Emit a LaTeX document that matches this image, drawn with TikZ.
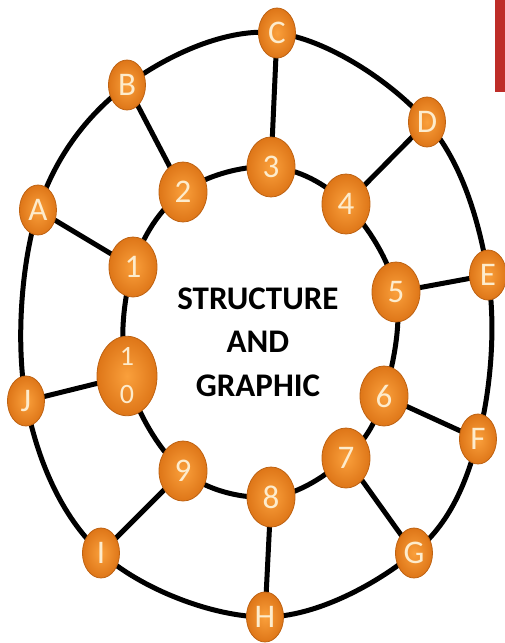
\documentclass[tikz,border=0pt]{standalone}
\usepackage{fontspec}
\setmainfont{Carlito}
\usetikzlibrary{shapes.geometric,backgrounds}
\definecolor{orin}{RGB}{250,160,60}
\definecolor{orout}{RGB}{222,118,24}
\definecolor{orrim}{RGB}{190,98,18}
\definecolor{cream}{RGB}{253,236,205}
\definecolor{redbar}{RGB}{190,45,40}
\begin{document}
\begin{tikzpicture}[x=1pt,y=-1pt,
  ball/.style={ellipse, inner sep=0pt, shading=radial, inner color=orin, outer color=orout,
    draw=orrim, line width=0.8pt, text=cream, font=\fontsize{33}{33}\selectfont},
  letterball/.style={ball, minimum width=37pt, minimum height=50pt},
  numball/.style={ball, minimum width=48pt, minimum height=60pt},
  link/.style={line width=5pt, black, line cap=round}]
\useasboundingbox (0,0) rectangle (505,643);
\fill[redbar] (495,0) rectangle (505,92);
% outer nodes
\node[letterball] (A) at (38,210) {A};
\node[letterball] (B) at (127,85) {B};
\node[letterball] (C) at (277,33) {C};
\node[letterball] (D) at (427,122) {D};
\node[letterball] (E) at (488,275) {E};
\node[letterball] (F) at (478,439) {F};
\node[letterball] (G) at (414,553) {G};
\node[letterball] (H) at (265,617) {H};
\node[letterball] (I) at (101,553) {I};
\node[letterball] (J) at (26,401) {J};
% inner nodes
\node[numball] (n1) at (133,267) {1};
\node[numball] (n2) at (183,192) {2};
\node[numball] (n3) at (271,167) {3};
\node[numball] (n4) at (346,204) {4};
\node[numball] (n5) at (396,292) {5};
\node[numball] (n6) at (384,396) {6};
\node[numball] (n7) at (346,458) {7};
\node[numball] (n8) at (271,497) {8};
\node[numball] (n9) at (183,471) {9};
\node[numball, minimum width=60pt, minimum height=76pt, align=center,
  font=\fontsize{28}{38}\selectfont] (n10) at (127,376) {1\\0};
% centre text
\node[font=\fontsize{33}{43.5}\selectfont\bfseries, align=center, text=black] (title) at (258,342)
  {STRUCTURE\\AND\\GRAPHIC};
\begin{scope}[on background layer]
\draw[link] plot[smooth cycle, tension=0.6] coordinates {(A.center) (B.center) (C.center) (D.center) (E.center) (F.center) (G.center) (H.center) (I.center) (J.center)};
\draw[link] plot[smooth cycle, tension=0.6] coordinates {(n1.center) (n2.center) (n3.center) (n4.center) (n5.center) (n6.center) (n7.center) (n8.center) (n9.center) (n10.center)};
\draw[link] (A.center) -- (n1.center);
\draw[link] (B.center) -- (n2.center);
\draw[link] (C.center) -- (n3.center);
\draw[link] (D.center) -- (n4.center);
\draw[link] (E.center) -- (n5.center);
\draw[link] (F.center) -- (n6.center);
\draw[link] (G.center) -- (n7.center);
\draw[link] (H.center) -- (n8.center);
\draw[link] (I.center) -- (n9.center);
\draw[link] (J.center) -- (n10.center);
\end{scope}
\end{tikzpicture}
\end{document}
